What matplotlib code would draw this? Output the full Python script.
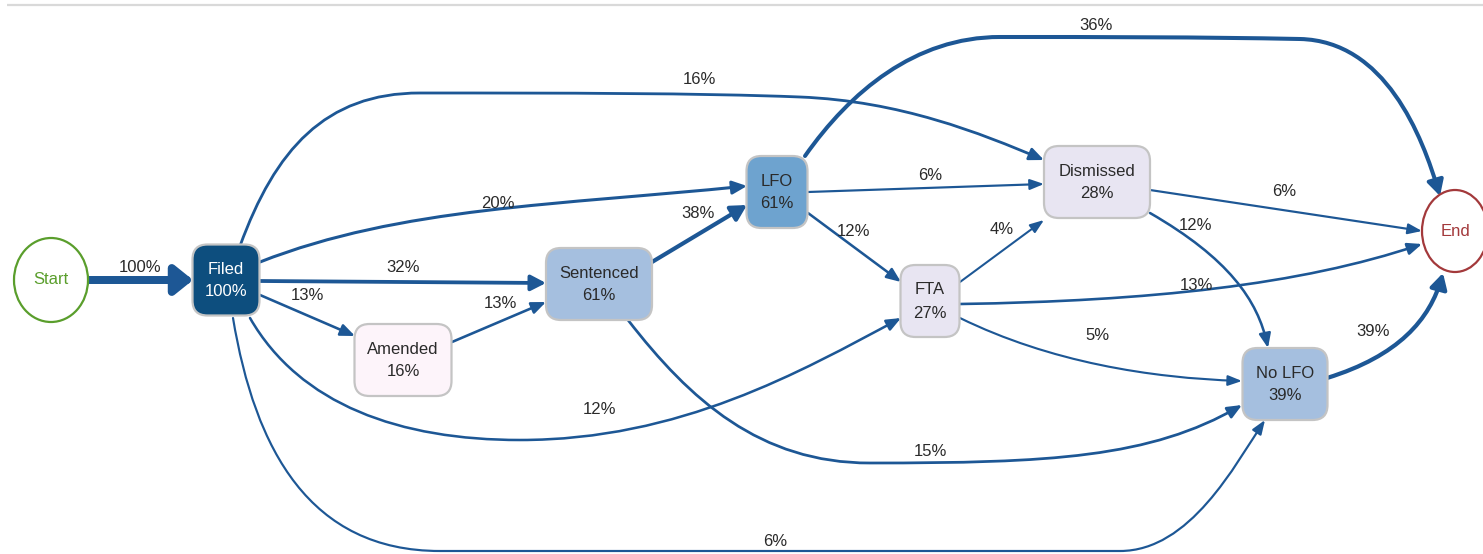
import numpy as np
import matplotlib
matplotlib.use('Agg')
import matplotlib.pyplot as plt
from matplotlib.patches import FancyBboxPatch, Ellipse, FancyArrowPatch, ArrowStyle
from matplotlib.path import Path

plt.rcParams['font.family'] = ['Liberation Sans', 'DejaVu Sans']

# process map data
nodes = ['Start', 'Filed', 'Amended', 'Sentenced', 'LFO', 'FTA', 'Dismissed', 'No LFO', 'End']
node_pct = [None, 100, 16, 61, 61, 27, 28, 39, None]

edge_src = ['Start', 'Filed', 'Filed', 'Amended', 'Filed', 'Filed', 'Filed', 'Filed',
            'Sentenced', 'Sentenced', 'LFO', 'LFO', 'LFO', 'FTA', 'FTA', 'FTA',
            'Dismissed', 'Dismissed', 'No LFO']
edge_dst = ['Filed', 'Sentenced', 'Amended', 'Sentenced', 'LFO', 'Dismissed', 'FTA', 'No LFO',
            'LFO', 'No LFO', 'End', 'Dismissed', 'FTA', 'Dismissed', 'End', 'No LFO',
            'End', 'No LFO', 'End']
edge_pct = [100, 32, 13, 13, 20, 16, 12, 6,
            38, 15, 36, 6, 12, 4, 13, 5,
            6, 12, 39]

# layout (pixel space, y down)
node_xy = {'Start': (51, 280), 'Filed': (226, 280), 'Amended': (403, 360),
           'Sentenced': (599, 284), 'LFO': (777, 192), 'FTA': (930, 301),
           'Dismissed': (1097, 182), 'No LFO': (1285, 384), 'End': (1455, 231)}
node_wh = {'Start': (74, 84), 'Filed': (67, 71), 'Amended': (97, 72),
           'Sentenced': (106, 72), 'LFO': (61, 72), 'FTA': (59, 72),
           'Dismissed': (106, 72), 'No LFO': (85, 72), 'End': (66, 82)}
node_fill = {'Filed': '#0d4e7e', 'Amended': '#fdf4fa', 'Sentenced': '#a5bfdf',
             'LFO': '#6ea3cf', 'FTA': '#e8e5f2', 'Dismissed': '#e8e5f2', 'No LFO': '#a5bfdf'}

# edge routes as cubic bezier control points (start, c1, c2, end, c1, c2, end ...)
edge_route = [
    [(88, 280), (193, 280)],
    [(260, 281), (546, 283)],
    [(260, 295), (355, 336)],
    [(452, 342), (546, 302)],
    [(260, 262), (400, 207), (560, 205), (747, 186)],
    [(240, 246), (275, 150), (325, 93), (420, 93),
     (560, 93), (700, 93), (800, 97),
     (900, 101), (980, 133), (1044, 160)],
    [(250, 318), (300, 405), (400, 440), (520, 440),
     (680, 440), (800, 372), (901, 318)],
    [(233, 318), (255, 450), (310, 551), (440, 551),
     (700, 551), (900, 551), (1120, 551),
     (1190, 551), (1235, 465), (1265, 420)],
    [(652, 262), (747, 205)],
    [(628, 320), (690, 400), (760, 463), (870, 463),
     (1050, 463), (1150, 458), (1242, 405)],
    [(805, 156), (850, 92), (915, 37), (1000, 37),
     (1100, 37), (1200, 37), (1300, 39),
     (1385, 41), (1422, 135), (1440, 196)],
    [(808, 192), (1044, 184)],
    [(808, 213), (901, 282)],
    [(960, 282), (1044, 220)],
    [(960, 304), (1150, 301), (1300, 285), (1422, 244)],
    [(960, 318), (1050, 362), (1150, 378), (1242, 381)],
    [(1150, 190), (1422, 231)],
    [(1150, 213), (1228, 258), (1258, 300), (1268, 348)],
    [(1327, 378), (1398, 356), (1430, 320), (1443, 273)],
]
label_xy = [(140, 268), (403, 268), (307, 296), (500, 303), (498, 203), (699, 80),
            (600, 410), (775, 541), (698, 213), (930, 452), (1096, 26), (930, 175),
            (853, 232), (1002, 229), (1196, 285), (1097, 335), (1284, 192), (1196, 226),
            (1373, 331)]

edge_color = '#1d5795'


def route_path(pts):
    pts = np.array(pts, dtype=float)
    if len(pts) == 2:
        return Path(pts, [Path.MOVETO, Path.LINETO])
    return Path(pts, [Path.MOVETO] + [Path.CURVE4] * (len(pts) - 1))


fig = plt.figure(figsize=(14.83, 5.54), dpi=100)
ax = fig.add_axes([0, 0, 1, 1])
ax.set_xlim(0, 1483)
ax.set_ylim(554, 0)
ax.axis('off')

ax.plot([7, 1483], [5, 5], color='#d9d9d9', lw=1.6, solid_capstyle='butt')

# edges, width by share of cases
for route, pct, lxy in zip(edge_route, edge_pct, label_xy):
    p = pct / 100
    lw = 1.3 + 4.45 * p
    style = ArrowStyle('-|>', head_length=8.2 + 2.5 * p, head_width=2.8 + 5.8 * p)
    arr = FancyArrowPatch(path=route_path(route), arrowstyle=style, mutation_scale=1,
                          color=edge_color, lw=lw, zorder=2)
    ax.add_patch(arr)
    ax.text(lxy[0], lxy[1], f'{pct}%', ha='center', va='center', fontsize=12,
            color='#2a2a2a', zorder=4)

# nodes
for name, pct in zip(nodes, node_pct):
    cx, cy = node_xy[name]
    w, h = node_wh[name]
    if pct is None:
        col = '#5a9e2c' if name == 'Start' else '#a3393b'
        ax.add_patch(Ellipse((cx, cy), w, h, facecolor='white', edgecolor=col,
                             lw=1.6, zorder=3))
        ax.text(cx, cy, name, ha='center', va='center', fontsize=12, color=col, zorder=4)
        continue
    box = FancyBboxPatch((cx - w / 2, cy - h / 2), w, h,
                         boxstyle='round,pad=0,rounding_size=15',
                         facecolor=node_fill[name], edgecolor='#c4c4c4', lw=1.6, zorder=3)
    ax.add_patch(box)
    tc = 'white' if name == 'Filed' else '#2a2a2a'
    ax.text(cx, cy - 11, name, ha='center', va='center', fontsize=12, color=tc, zorder=4)
    ax.text(cx, cy + 12, f'{pct}%', ha='center', va='center', fontsize=12, color=tc, zorder=4)

fig.savefig('out.png', dpi=100)
